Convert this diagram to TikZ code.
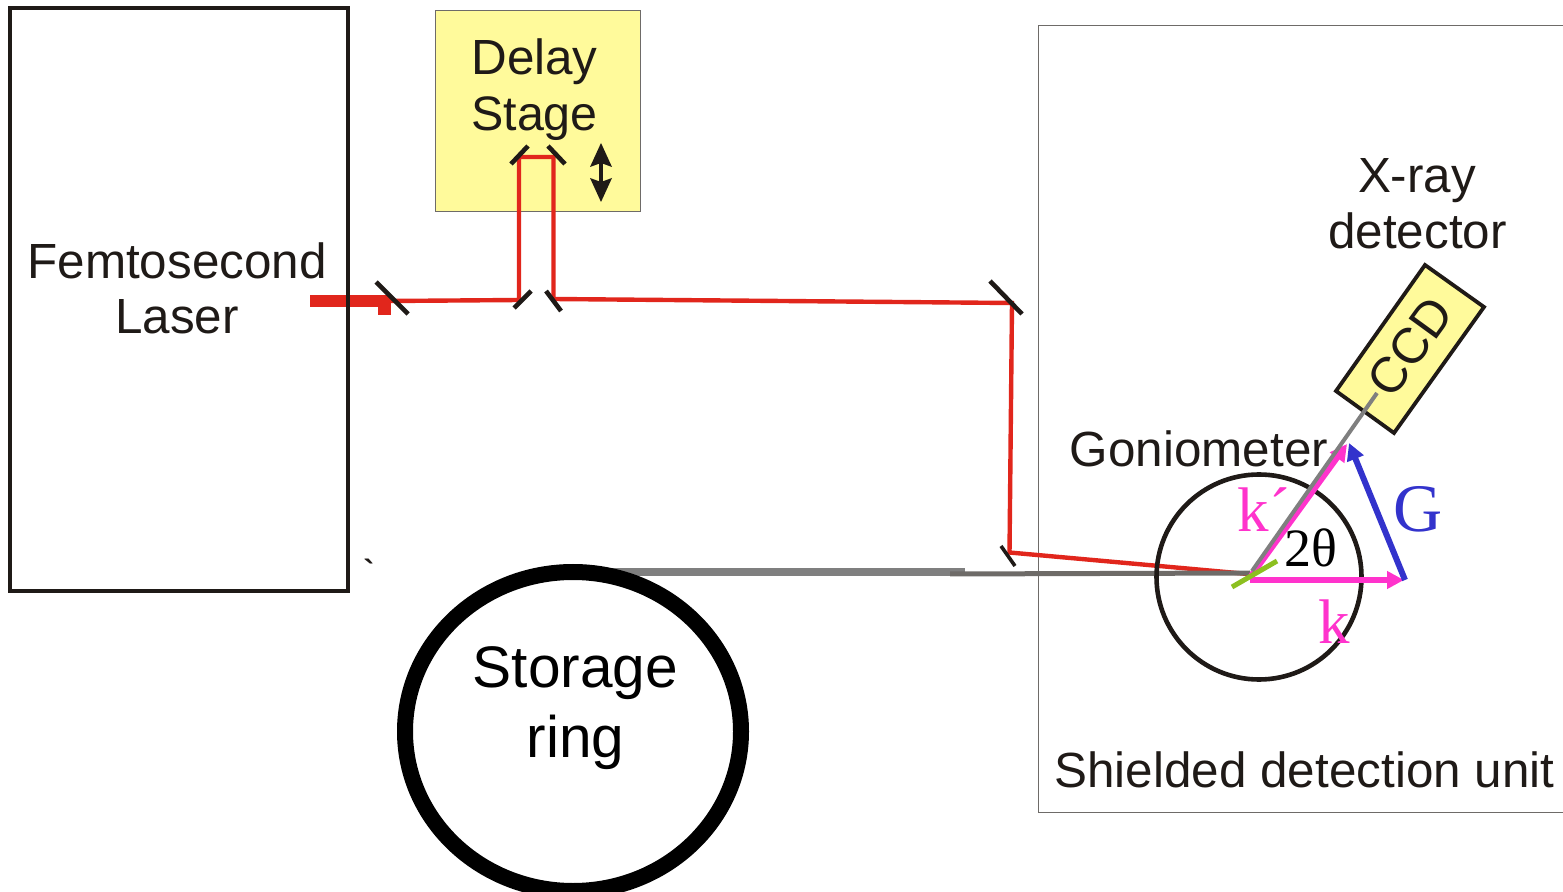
\documentclass[tikz,border=0pt]{standalone}
\usepackage{fontspec}
\setmainfont{Liberation Sans}
\newfontfamily\serifface{Liberation Serif}
\newfontfamily\plainface{Liberation Sans Bold}
\usetikzlibrary{arrows.meta,shapes.geometric}
\definecolor{inkc}{HTML}{1F1A17}
\definecolor{redc}{HTML}{E1261C}
\definecolor{pinkc}{HTML}{FF33CC}
\definecolor{bluec}{HTML}{3333CC}
\definecolor{greenc}{HTML}{8CC020}
\definecolor{grayc}{HTML}{7F7F7F}
\definecolor{darkgrayc}{HTML}{6E6B68}
\definecolor{yellowc}{HTML}{FFFA9B}
\tikzset{
  every node/.append style={outer sep=0pt},
  label48/.style={font=\fontsize{24.7}{28}\selectfont, text=inkc, anchor=base, inner sep=0pt},
  label58/.style={font=\fontsize{29.3}{34}\selectfont, text=black, anchor=base, inner sep=0pt},
  mirrorline/.style={draw=inkc, line width=2.3pt},
  beam/.style={draw=redc, line width=2.2pt, line join=miter},
  xray/.style={draw=grayc, line width=2pt},
  vecpink/.style={draw=pinkc, line width=3pt, -{Triangle[length=8.5pt,width=8.5pt]}},
  vecblue/.style={draw=bluec, line width=3pt, -{Triangle[length=8.5pt,width=8.5pt]}},
  serifl/.style={font=\serifface\fontsize{#1}{#1}\selectfont, inner sep=0pt, anchor=base},
}
\begin{document}
\begin{tikzpicture}[x=0.5pt,y=-0.5pt]
\useasboundingbox (0,0) rectangle (1563,892);
\clip (0,0) rectangle (1563,892);
% frames
\node[draw=darkgrayc, line width=0.5pt, minimum width=600pt, minimum height=393.5pt, inner sep=0pt, anchor=north west] (shield) at (1038,25.5) {};
\node[draw=darkgrayc, fill=yellowc, line width=0.5pt, minimum width=102.5pt, minimum height=100.5pt, inner sep=0pt, anchor=north west] (delay) at (435.5,11) {};
% thick laser output
\coordinate (l0) at (310,301);
\coordinate (l1) at (390,301);
\coordinate (tab0) at (384.5,300);
\coordinate (tab1) at (384.5,315);
\draw[draw=redc, line width=6pt] (l0) -- (l1);
\draw[draw=redc, line width=6.5pt] (tab0) -- (tab1);
% laser box on top of the beam
\node[draw=inkc, line width=2.1pt, minimum width=169pt, minimum height=291.5pt, inner sep=0pt, anchor=north west] (laser) at (10,8) {};
% beam path
\coordinate (b1) at (519,300);
\coordinate (b2) at (519,157);
\coordinate (b3) at (553.5,157);
\coordinate (b4) at (553.5,299);
\coordinate (b5) at (1012,303);
\coordinate (b6) at (1009.5,552.5);
\coordinate (b7) at (1248,574);
\draw[beam] (l1) -- (b1) -- (b2) -- (b3) -- (b4) -- (b5) -- (b6) -- (b7);
% x-ray
\coordinate (x0) at (610,572);
\coordinate (x1) at (965,572);
\coordinate (x2) at (950,574);
\coordinate (x3) at (1250,573);
\draw[draw=grayc, line width=4pt] (x0) -- (x1);
\draw[draw=darkgrayc, line width=2.5pt] (x2) -- (x3);
% mirrors
\coordinate (m1a) at (376,282); \coordinate (m1b) at (408,314);
\coordinate (m2a) at (514,308); \coordinate (m2b) at (531,291);
\coordinate (m3a) at (546,291); \coordinate (m3b) at (561,311);
\coordinate (m4a) at (511,164); \coordinate (m4b) at (528,146);
\coordinate (m5a) at (548,146); \coordinate (m5b) at (565,164);
\coordinate (m6a) at (990,281); \coordinate (m6b) at (1022,314);
\coordinate (m7a) at (1001,546); \coordinate (m7b) at (1015,566);
\foreach \a/\b in {m1a/m1b,m2a/m2b,m3a/m3b,m4a/m4b,m5a/m5b,m6a/m6b}
  \draw[mirrorline] (\a) -- (\b);
\draw[mirrorline, line width=1.8pt] (m7a) -- (m7b);
% stage double arrow
\coordinate (da0) at (601,150);
\coordinate (da1) at (601,195);
\draw[draw=inkc, line width=2pt] (da0) -- (da1);
\fill[inkc] (601,143) -- (612,167) -- (601,163) -- (590,167) -- cycle;
\fill[inkc] (601,202) -- (612,178) -- (601,182) -- (590,178) -- cycle;
% storage ring
\node[draw=black, line width=8pt, ellipse, minimum width=168pt, minimum height=159.5pt, inner sep=0pt] (ring) at (573,731.5) {};
% goniometer
\node[draw=inkc, line width=2.3pt, circle, minimum size=102.5pt, inner sep=0pt] (gonio) at (1259,577) {};
% CCD
\coordinate (c1) at (1425,265);
\coordinate (c2) at (1484,307);
\coordinate (c3) at (1394,433);
\coordinate (c4) at (1336,391);
\draw[draw=inkc, fill=yellowc, line width=1.9pt] (c1) -- (c2) -- (c3) -- (c4) -- cycle;
\node[font=\fontsize{25}{28}\selectfont, text=inkc, rotate=54, inner sep=0pt] (ccd) at (1410,347) {CCD};
% vectors
\coordinate (o) at (1250,580);
\coordinate (kend) at (1404,580);
\coordinate (kpstart) at (1251,576);
\coordinate (kpend) at (1347,444);
\coordinate (gstart) at (1405,580);
\coordinate (gend) at (1349,443);
\coordinate (ray0) at (1252,571);
\coordinate (ray1) at (1377,393);
\coordinate (gr0) at (1232,587);
\coordinate (gr1) at (1277,561);
\draw[vecpink] (o) -- (kend);
\draw[vecpink] (kpstart) -- (kpend);
\draw[vecblue] (gstart) -- (gend);
\draw[xray] (ray0) -- (ray1);
\draw[draw=greenc, line width=2.5pt] (gr0) -- (gr1);
% labels
\node[label48] (t1) at (177,279) {Femtosecond};
\node[label48] (t2) at (177,334) {Laser};
\node[label48] (t3) at (534.5,75) {Delay};
\node[label48, font=\fontsize{24.2}{28}\selectfont] (t4) at (534.5,131) {Stage};
\node[label48] (t5) at (1417,193) {X-ray};
\node[label48] (t6) at (1417.5,248.5) {detector};
\node[label48] (t7) at (1199,467) {Goniometer};
\node[label48] (t8) at (1304.5,787) {Shielded detection unit};
\node[label58] (t9) at (575.5,687) {Storage};
\node[label58] (t10) at (575.5,757) {ring};
\node[serifl=31.5, text=pinkc] (t11) at (1264,531) {k´};
\node[serifl=31.5, text=pinkc] (t12) at (1334,643) {k};
\node[serifl=34, text=bluec] (t13) at (1418.5,531) {G};
\node[serifl=27, text=black] (t14) at (1311,567) {2θ};
\node[font=\plainface\fontsize{16}{16}\selectfont, text=inkc, inner sep=0pt] (t15) at (369,571) {\symbol{96}};
\end{tikzpicture}
\end{document}
